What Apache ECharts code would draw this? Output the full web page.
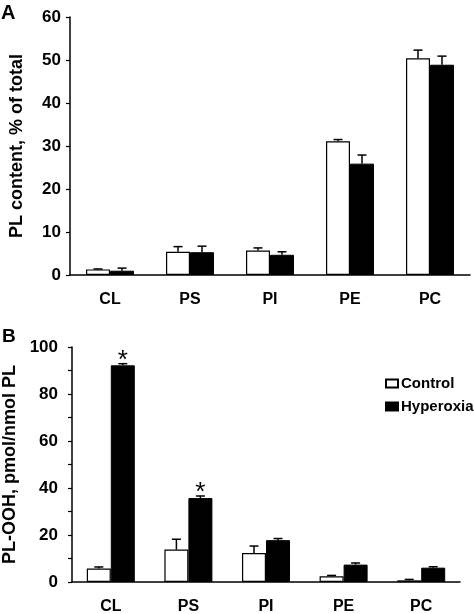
<!DOCTYPE html>
<html>
<head>
<meta charset="utf-8">
<script src="https://cdn.jsdelivr.net/npm/echarts@6/dist/echarts.min.js"></script>
<style>
html,body{margin:0;padding:0;background:#fff;}
#main{width:474px;height:614px;}
</style>
</head>
<body>
<div id="main"></div>
<script>
// ---- data ----
var categories = ['CL', 'PS', 'PI', 'PE', 'PC'];
var seriesNames = ['Control', 'Hyperoxia'];
// Panel A: PL content, % of total
var controlA = [1.3, 5.4, 5.7, 31.1, 50.4];
var controlAErr = [0.1, 1.2, 0.6, 0.4, 1.9];
var hyperA = [1.0, 5.3, 4.7, 25.9, 48.9];
var hyperAErr = [0.6, 1.4, 0.7, 2.0, 2.0];
// Panel B: PL-OOH, pmol/nmol PL
var controlB = [5.7, 13.8, 12.3, 2.4, 0.7];
var controlBErr = [0.7, 4.4, 3.0, 0.4, 0.4];
var hyperB = [92.2, 35.7, 17.8, 7.4, 6.1];
var hyperBErr = [0.7, 0.9, 0.7, 0.7, 0.4];
var sigB = ['*', '*', '', '', ''];
var yTicksA = {min: 0, max: 60, interval: 10};
var yTicksB = {min: 0, max: 100, interval: 20};

// ---- rendering ----
var FONT = '"Liberation Sans", Arial, Helvetica, sans-serif';
var BAR_W = 24;

function errSeries(name, vals, errs, axisIdx, offset, sig) {
  return {
    name: name + ' err',
    type: 'custom',
    xAxisIndex: axisIdx,
    yAxisIndex: axisIdx,
    z: 5,
    silent: true,
    data: vals.map(function (v, i) { return [i, v, errs[i]]; }),
    encode: {x: 0, y: 1},
    renderItem: function (params, api) {
      var i = api.value(0), v = api.value(1), e = api.value(2);
      var base = api.coord([i, v]);
      var top = api.coord([i, v + e]);
      var x = base[0] + offset;
      var style = {stroke: '#000', lineWidth: 1.5};
      var children = [
        {type: 'line', shape: {x1: x, y1: base[1], x2: x, y2: top[1]}, style: style},
        {type: 'line', shape: {x1: x - 4.5, y1: top[1], x2: x + 4.5, y2: top[1]}, style: style}
      ];
      if (sig && sig[params.dataIndex]) {
        children.push({
          type: 'text',
          style: {
            text: sig[params.dataIndex], x: x, y: top[1] - 3,
            align: 'center', verticalAlign: 'middle',
            font: 'normal 26px ' + FONT, fill: '#000'
          }
        });
      }
      return {type: 'group', children: children};
    }
  };
}

function barSeries(name, vals, axisIdx, white) {
  return {
    name: name,
    type: 'bar',
    xAxisIndex: axisIdx,
    yAxisIndex: axisIdx,
    barWidth: BAR_W,
    barGap: '0%',
    itemStyle: white ? {color: '#fff', borderColor: '#000', borderWidth: 1.2}
                     : {color: '#000', borderColor: '#000', borderWidth: 1},
    data: vals,
    emphasis: {disabled: true}
  };
}

function xAxis(gridIdx) {
  return {
    type: 'category', gridIndex: gridIdx, data: categories,
    axisLine: {show: true, lineStyle: {color: '#000', width: 1.5}},
    axisTick: {show: false},
    axisLabel: {color: '#000', fontFamily: FONT, fontWeight: 'bold', fontSize: 16, margin: 17},
    splitLine: {show: false}
  };
}

function yAxis(gridIdx, ticks, name, gap, labelMargin, minor) {
  var ax = {
    type: 'value', gridIndex: gridIdx,
    min: ticks.min, max: ticks.max, interval: ticks.interval,
    name: name, nameLocation: 'middle', nameGap: gap, nameRotate: 90,
    nameTextStyle: {color: '#000', fontFamily: FONT, fontWeight: 'bold', fontSize: 18},
    axisLine: {show: true, lineStyle: {color: '#000', width: 1.5}},
    axisTick: {show: true, length: 4, lineStyle: {color: '#000', width: 1.2}},
    axisLabel: {color: '#000', fontFamily: FONT, fontWeight: 'bold', fontSize: 17,
                margin: labelMargin, padding: [9, 0, 0, 0]},
    splitLine: {show: false}
  };
  if (minor) {
    ax.minorTick = {show: true, splitNumber: 2, length: 4, lineStyle: {color: '#000', width: 1.2}};
    ax.minorSplitLine = {show: false};
  }
  return ax;
}

var chart = echarts.init(document.getElementById('main'), null, {renderer: 'canvas'});
chart.setOption({
  animation: false,
  backgroundColor: '#fff',
  textStyle: {fontFamily: FONT},
  title: [
    {text: 'A', left: 1, top: 3, padding: 0, textStyle: {fontFamily: FONT, fontWeight: 'bold', fontSize: 20, color: '#000'}},
    {text: 'B', left: 2, top: 327, padding: 0, textStyle: {fontFamily: FONT, fontWeight: 'bold', fontSize: 19, color: '#000'}}
  ],
  legend: {
    orient: 'vertical', left: 380, top: 371,
    data: seriesNames,
    icon: 'rect', itemWidth: 12, itemHeight: 8, itemGap: 8,
    textStyle: {color: '#000', fontFamily: FONT, fontWeight: 'bold', fontSize: 15, padding: [0, 0, 0, -2]},
    selectedMode: false
  },
  grid: [
    {left: 70, top: 17, width: 400, height: 258, containLabel: false, outerBoundsMode: 'none'},
    {left: 72, top: 347, width: 388, height: 235, containLabel: false, outerBoundsMode: 'none'}
  ],
  xAxis: [xAxis(0), xAxis(1)],
  yAxis: [
    yAxis(0, yTicksA, 'PL content, % of total', 44, 9, false),
    yAxis(1, yTicksB, 'PL-OOH, pmol/nmol PL', 48, 14, true)
  ],
  series: [
    barSeries(seriesNames[0], controlA, 0, true),
    barSeries(seriesNames[1], hyperA, 0, false),
    errSeries(seriesNames[0], controlA, controlAErr, 0, -BAR_W / 2),
    errSeries(seriesNames[1], hyperA, hyperAErr, 0, BAR_W / 2),
    barSeries(seriesNames[0], controlB, 1, true),
    barSeries(seriesNames[1], hyperB, 1, false),
    errSeries(seriesNames[0], controlB, controlBErr, 1, -BAR_W / 2),
    errSeries(seriesNames[1], hyperB, hyperBErr, 1, BAR_W / 2, sigB)
  ]
});
</script>
</body>
</html>
